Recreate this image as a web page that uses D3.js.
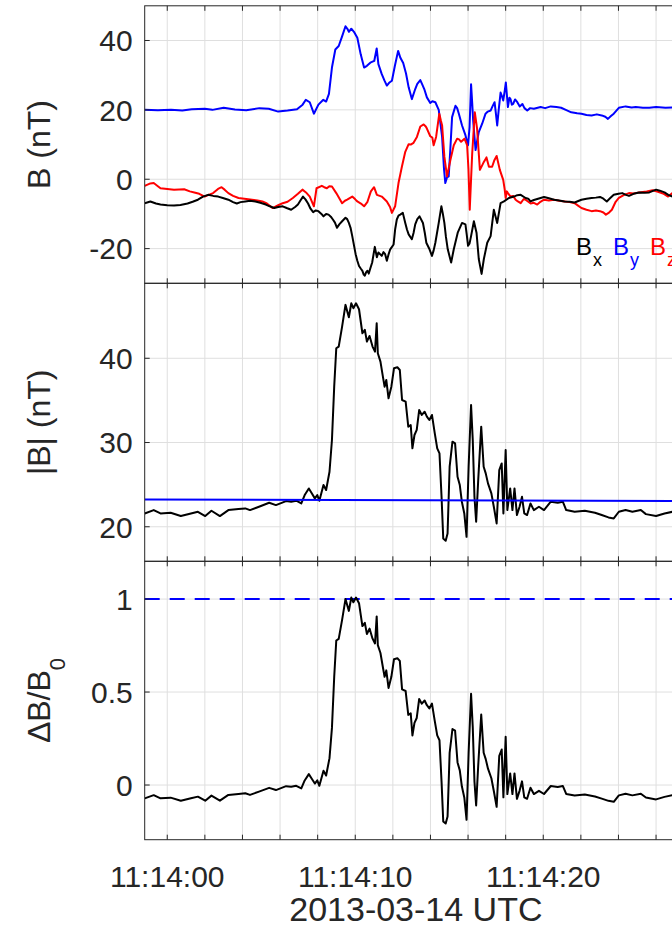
<!DOCTYPE html>
<html>
<head>
<meta charset="utf-8">
<script src="https://cdn.jsdelivr.net/npm/d3@7"></script>
<style>
html,body{margin:0;padding:0;background:#fff;}
svg{display:block;}
text{font-family:"Liberation Sans",Arial,Helvetica,sans-serif;fill:#262626;}
</style>
</head>
<body>
<svg id="chart" width="672" height="930"></svg>
<script>
// ---------- DATA (seconds after 2013-03-14 11:14:00 UTC) ----------
const tBx = [-1.2,-0.9,-0.6,-0.36,0,0.36,0.7,1.08,1.35,1.63,1.9,2.17,2.45,2.71,3,3.25,3.5,3.7,3.9,4.15,4.4,4.69,4.95,5.24,5.45,5.69,5.9,6.14,6.35,6.59,6.8,6.95,7.1,7.22,7.35,7.49,7.62,7.76,7.9,8.04,8.2,8.31,8.45,8.58,8.7,8.81,8.92,9.03,9.15,9.3,9.48,9.57,9.66,9.75,9.84,9.93,10.02,10.11,10.2,10.3,10.38,10.45,10.51,10.58,10.65,10.72,10.79,10.9,11.04,11.15,11.23,11.41,11.5,11.59,11.68,11.78,11.86,12.04,12.12,12.21,12.3,12.39,12.53,12.66,12.75,12.84,13.01,13.1,13.19,13.3,13.42,13.6,13.7,13.78,13.95,14.08,14.17,14.26,14.44,14.58,14.66,14.74,14.82,14.92,15.1,15.24,15.45,15.68,15.86,15.93,16,16.08,16.16,16.31,16.45,16.57,16.72,16.84,17.02,17.2,17.37,17.55,17.73,17.91,18.17,18.44,18.62,18.8,19.06,19.2,19.32,19.5,19.68,20.04,20.3,20.58,20.85,21.13,21.4,21.67,22.03,22.3,22.57,22.8,23.02,23.2,23.38,23.55,23.75,24,24.2,24.4,24.56,24.8,25.1,25.4,25.64,26,26.2,26.45,26.65,26.87,27.2,27.7];
const bx = [-6.9,-6.4,-7.0,-7.3,-7.5,-7.6,-7.4,-7.0,-6.5,-5.9,-5.0,-4.5,-4.8,-5.0,-5.5,-5.9,-6.6,-7.0,-6.6,-6.4,-6.2,-6.4,-6.8,-7.3,-7.8,-8.3,-8.0,-7.8,-8.3,-8.8,-8.0,-7.3,-6.0,-5.0,-5.8,-7.0,-8.5,-9.5,-9.0,-9.2,-10.0,-10.7,-10.0,-10.2,-10.8,-11.6,-12.5,-14.0,-13.0,-12.1,-11.1,-11.5,-12.6,-14.0,-16.4,-19.0,-21.6,-23.5,-25.0,-25.8,-26.4,-27.5,-27.8,-26.8,-26.4,-27.2,-25.9,-24.0,-19.5,-22.5,-21.1,-22.1,-21.0,-21.6,-23.5,-21.5,-20.2,-18.8,-14.5,-11.6,-10.5,-10.2,-9.7,-12.6,-14.5,-15.9,-17.3,-15.5,-13.0,-11.5,-10.7,-12.6,-15.5,-18.3,-20.2,-22.1,-20.5,-18.3,-12.6,-7.8,-10.0,-12.6,-16.5,-20.2,-24.0,-20.2,-15.4,-12.6,-13.0,-16.0,-19.2,-18.5,-16.4,-12.1,-15.4,-23.0,-27.3,-23.0,-18.3,-16.4,-8.8,-12.6,-6.9,-6.4,-5.4,-5.0,-4.6,-4.5,-5.4,-5.6,-6.4,-6.0,-5.7,-5.1,-5.5,-5.9,-6.1,-6.4,-6.5,-6.7,-5.9,-5.6,-5.4,-5.3,-5.1,-5.6,-6.4,-5.5,-4.5,-4.2,-4.0,-4.5,-4.8,-4.2,-3.8,-3.9,-3.8,-3.0,-3.3,-3.8,-4.5,-5.0,-4.8,-4.6];

const tBy = [-1.2,-0.5,0.2,0.8,1.3,2,2.4,3,3.6,4.2,4.9,5.4,5.9,6.4,6.9,7.2,7.37,7.58,7.8,8.04,8.3,8.45,8.6,8.76,8.94,9.12,9.3,9.48,9.6,9.66,9.79,9.93,10.11,10.29,10.47,10.62,10.8,11.01,11.14,11.23,11.41,11.55,11.68,11.8,11.95,12.1,12.28,12.4,12.55,12.7,12.84,13.01,13.19,13.3,13.46,13.55,13.67,13.81,13.99,14.1,14.26,14.44,14.62,14.72,14.79,14.88,14.97,15.05,15.15,15.33,15.42,15.51,15.68,15.86,16,16.08,16.16,16.22,16.27,16.4,16.48,16.57,16.75,16.93,17.05,17.2,17.3,17.41,17.48,17.55,17.63,17.73,17.8,17.87,17.95,18.01,18.07,18.12,18.2,18.26,18.33,18.4,18.5,18.62,18.75,18.89,19,19.15,19.3,19.5,19.86,20.1,20.4,20.7,20.95,21.2,21.49,21.8,22.03,22.3,22.57,22.85,23.11,23.3,23.44,23.6,23.75,24.02,24.38,24.7,24.92,25.3,25.64,26,26.5,27.2,27.7];
const by = [20.0,19.9,20.0,19.8,20.2,20.3,20.0,20.6,20.1,19.9,20.5,20.3,19.5,19.8,20.2,21.5,22.9,22.2,18.9,21.5,22.9,22.4,24.6,32.2,37.4,38.4,41.2,44.1,43.2,42.5,43.4,42.5,40.8,36.0,32.2,32.7,33.6,34.1,37.7,33.2,30.3,28.5,27.0,27.8,28.4,32.5,37.0,35.0,33.5,30.5,26.5,23.1,26.0,27.5,28.6,27.5,26.0,23.6,22.0,22.5,22.2,20.0,12.2,3.0,-1.1,0.5,0.8,8.0,17.9,21.2,20.5,18.9,15.5,12.7,9.8,15.0,27.4,22.0,17.0,8.4,11.0,13.6,16.0,18.9,19.5,19.8,21.0,22.2,19.0,15.5,20.0,25.0,24.0,22.7,25.5,27.9,24.0,20.8,23.5,23.1,21.5,21.7,23.0,22.2,21.0,21.7,20.5,19.8,20.5,20.3,20.8,20.5,21.0,20.8,20.6,20.0,19.3,19.0,18.9,18.5,18.4,18.7,18.4,18.0,17.4,18.2,18.9,20.6,21.0,20.7,20.8,20.6,20.6,20.8,20.6,20.7,20.6];

const tBz = [-1.2,-0.9,-0.72,-0.5,-0.36,0,0.36,0.9,1.2,1.44,1.7,1.99,2.2,2.44,2.7,2.89,3.05,3.25,3.5,3.79,4.1,4.51,4.8,5.06,5.3,5.6,5.9,6.14,6.4,6.68,6.95,7.19,7.38,7.58,7.8,7.94,8.22,8.35,8.49,8.62,8.76,8.99,9.15,9.3,9.45,9.57,9.84,10,10.11,10.3,10.47,10.65,10.83,11,11.15,11.41,11.68,11.85,11.95,12.12,12.3,12.48,12.66,12.84,12.95,13.1,13.28,13.46,13.64,13.75,13.81,13.99,14.1,14.17,14.3,14.47,14.55,14.62,14.74,14.88,15.06,15.24,15.42,15.52,15.63,15.81,15.95,16.02,16.09,16.16,16.22,16.36,16.48,16.63,16.75,16.84,16.98,17.11,17.28,17.4,17.52,17.69,17.87,17.95,18,18.06,18.12,18.26,18.4,18.53,18.65,18.8,18.96,19.06,19.33,19.5,19.68,19.85,20.04,20.3,20.58,20.85,21.13,21.4,21.67,21.85,22.03,22.3,22.57,22.8,23.02,23.2,23.33,23.5,23.65,23.85,24.02,24.3,24.56,24.8,25.1,25.5,25.82,26.1,26.37,26.64,26.87,27.2,27.7];
const bz = [-1.9,-1.2,-1.1,-2.0,-2.6,-2.8,-3.0,-2.9,-3.5,-3.8,-4.2,-5.0,-4.5,-4.0,-2.8,-2.3,-3.0,-4.0,-4.8,-5.4,-5.6,-5.9,-6.1,-6.4,-7.0,-8.3,-7.5,-6.9,-6.5,-5.4,-4.2,-3.0,-3.8,-5.0,-7.8,-2.6,-1.9,-2.3,-2.6,-2.0,-2.1,-4.0,-5.5,-6.9,-6.2,-5.9,-5.0,-5.8,-6.4,-7.0,-7.8,-6.5,-3.5,-2.3,-4.5,-5.0,-6.4,-8.0,-9.7,-7.8,-1.1,3.6,7.9,10.1,10.0,10.5,12.2,15.2,15.8,15.2,14.6,12.4,12.0,9.8,12.2,18.9,17.0,15.5,6.5,0.8,5.5,9.8,11.7,11.5,10.8,11.7,9.8,3.0,-8.8,0.0,7.4,19.3,14.6,2.7,4.0,5.0,6.3,3.6,3.6,5.5,6.7,2.7,-0.2,-3.0,-5.4,-3.5,-4.0,-5.0,-4.8,-5.9,-6.4,-6.9,-5.7,-5.9,-7.0,-6.8,-7.3,-6.5,-5.9,-6.1,-5.9,-6.2,-6.4,-6.6,-6.9,-7.6,-8.3,-8.8,-9.2,-9.0,-9.2,-9.6,-10.2,-9.6,-8.8,-6.5,-5.4,-4.5,-4.0,-4.1,-3.8,-3.5,-3.2,-3.6,-4.1,-5.0,-4.0,-3.8,-3.9];

const tBmag = [-1.2,-0.72,-0.36,0.18,0.72,1.26,1.63,2.02,2.35,2.8,3.25,3.79,4.15,4.4,4.88,5.42,5.78,6.32,6.59,6.86,7.13,7.31,7.53,7.67,7.85,7.98,8.09,8.31,8.45,8.63,8.76,8.88,8.99,9.12,9.3,9.48,9.66,9.79,9.9,10.04,10.2,10.38,10.51,10.62,10.76,10.92,11.05,11.14,11.2,11.34,11.47,11.56,11.65,11.77,11.92,12.06,12.24,12.37,12.49,12.68,12.82,12.95,13.04,13.15,13.27,13.4,13.54,13.69,13.81,13.94,14.08,14.23,14.36,14.48,14.59,14.68,14.81,14.91,15.02,15.17,15.31,15.44,15.56,15.67,15.8,15.92,16.03,16.16,16.25,16.34,16.43,16.54,16.7,16.83,16.94,17.06,17.24,17.37,17.52,17.66,17.79,17.88,18,18.09,18.24,18.36,18.47,18.6,18.74,18.87,18.99,19.14,19.32,19.5,19.77,20.04,20.4,20.77,21.04,21.22,21.67,22.21,22.75,23.11,23.47,23.75,24.02,24.38,24.74,25.19,25.46,26,26.45,26.87,27.2,27.7];
const bmag = [21.58,21.98,21.58,21.66,21.27,21.58,21.78,21.27,21.9,21.27,21.98,22.1,22.18,21.98,22.38,22.85,22.57,23.05,22.97,23.09,22.77,23.76,24.55,24.04,23.37,23.76,23.09,24.95,24.36,26.53,30.3,36.63,41.19,41.39,43.76,46.34,44.87,46.53,45.94,46.53,45.82,42.97,43.37,41.98,42.65,41.39,40.79,44.16,40.59,39.6,37.82,36.63,37.43,35.25,36.63,38.81,38.93,38.61,35.05,34.85,31.88,32.08,29.31,30.89,31.49,33.86,33.27,33.66,33.07,32.67,33.27,31.09,29.31,28.71,23.56,18.61,18.34,19.21,27.13,30.1,29.9,25.94,24.95,22.97,21.58,18.8,27.13,34.46,30.3,23.56,20.59,25.54,31.88,27.13,26.34,25.15,23.96,22.38,20.4,26.73,27.52,21.58,29.11,21.98,24.55,21.98,24.55,21.39,22.38,23.56,21.58,21.39,22.77,21.98,22.38,21.98,22.97,22.85,22.97,21.98,21.78,21.9,21.66,21.39,21.11,20.99,21.78,21.98,21.78,21.98,21.5,21.27,21.58,21.78,21.7,21.6];

// background field B0 (blue reference line), endpoints
const tB0 = [-1.2, 27.7];
const b0 = [23.25, 23.04];

const xTickLabelSeconds = [0, 10, 20];
const yTicks1 = [-20, 0, 20, 40];
const yTicks2 = [20, 30, 40];
const yTicks3 = [0, 0.5, 1];
const dashedLevel = 1;

// ---------- SCALES ----------
const T0 = Date.UTC(2013, 2, 14, 11, 14, 0);
const toDate = s => new Date(T0 + s * 1000);
const tStart = -1.2, tEnd = 27.65;
const pxPerSec = 18.8;
const left = 144.7;
const x = d3.scaleUtc().domain([toDate(tStart), toDate(tEnd)])
  .range([left, left + (tEnd - tStart) * pxPerSec]);
const xr = x.range();

const panels = [
  {y: d3.scaleLinear().domain([-30, 50]).range([283.3, 5.8]), ticks: yTicks1, fmt: d => String(d)},
  {y: d3.scaleLinear().domain([15.9, 48.9]).range([561.3, 283.3]), ticks: yTicks2, fmt: d => String(d)},
  {y: d3.scaleLinear().domain([-0.294, 1.203]).range([839.7, 561.3]), ticks: yTicks3, fmt: d => String(d)}
];

const svg = d3.select("#chart");
const secTicks = x.ticks(d3.utcSecond.every(2));
const gridColor = "#dfdfdf";
const axisColor = "#262626";

panels.forEach((p, i) => {
  const g = svg.append("g");
  const [y0, y1] = p.y.range();
  const clipId = "clip" + i;
  svg.append("clipPath").attr("id", clipId).append("rect")
    .attr("x", xr[0]).attr("y", y1).attr("width", xr[1] - xr[0]).attr("height", y0 - y1);
  g.selectAll(".vg").data(secTicks).enter().append("line")
    .attr("x1", d => x(d)).attr("x2", d => x(d)).attr("y1", y1).attr("y2", y0)
    .attr("stroke", gridColor).attr("stroke-width", 1);
  g.selectAll(".hg").data(p.ticks).enter().append("line")
    .attr("x1", xr[0]).attr("x2", xr[1]).attr("y1", d => p.y(d)).attr("y2", d => p.y(d))
    .attr("stroke", gridColor).attr("stroke-width", 1);
  p.g = g; p.clipId = clipId;
});

const line = (ys, ts, vs) => d3.line().x((d, k) => x(toDate(ts[k]))).y(d => ys(d))(vs);

// Panel 1: components
const p1 = panels[0];
[
  {t: tBy, v: by, c: "#0000ff"},
  {t: tBz, v: bz, c: "#ff0000"},
  {t: tBx, v: bx, c: "#000000"}
].forEach(s => {
  p1.g.append("path").attr("d", line(p1.y, s.t, s.v)).attr("fill", "none")
    .attr("stroke", s.c).attr("stroke-width", 2).attr("stroke-linejoin", "round")
    .attr("clip-path", `url(#${p1.clipId})`);
});

// Panel 2: |B| and B0
const p2 = panels[1];
p2.g.append("path").attr("d", line(p2.y, tBmag, bmag)).attr("fill", "none")
  .attr("stroke", "#000").attr("stroke-width", 2).attr("stroke-linejoin", "round")
  .attr("clip-path", `url(#${p2.clipId})`);
p2.g.append("path").attr("d", line(p2.y, tB0, b0)).attr("fill", "none")
  .attr("stroke", "#0000ff").attr("stroke-width", 2)
  .attr("clip-path", `url(#${p2.clipId})`);

// Panel 3: dB/B0 derived from |B| and B0
const b0At = d3.scaleLinear().domain(tB0).range(b0);
const dB = bmag.map((v, k) => v / b0At(tBmag[k]) - 1);
const p3 = panels[2];
p3.g.append("line").attr("x1", xr[0]).attr("x2", xr[1])
  .attr("y1", p3.y(dashedLevel)).attr("y2", p3.y(dashedLevel))
  .attr("stroke", "#0000ff").attr("stroke-width", 2).attr("stroke-dasharray", "15,10");
p3.g.append("path").attr("d", line(p3.y, tBmag, dB)).attr("fill", "none")
  .attr("stroke", "#000").attr("stroke-width", 2).attr("stroke-linejoin", "round")
  .attr("clip-path", `url(#${p3.clipId})`);

// Axes frames, ticks, labels
panels.forEach(p => {
  const [y0, y1] = p.y.range();
  const g = svg.append("g");
  g.append("rect").attr("x", xr[0]).attr("y", y1).attr("width", xr[1] - xr[0]).attr("height", y0 - y1)
    .attr("fill", "none").attr("stroke", axisColor).attr("stroke-width", 1);
  secTicks.forEach(d => {
    g.append("line").attr("x1", x(d)).attr("x2", x(d)).attr("y1", y0).attr("y2", y0 - 5).attr("stroke", axisColor);
    g.append("line").attr("x1", x(d)).attr("x2", x(d)).attr("y1", y1).attr("y2", y1 + 5).attr("stroke", axisColor);
  });
  p.ticks.forEach(d => {
    g.append("line").attr("x1", xr[0]).attr("x2", xr[0] + 5).attr("y1", p.y(d)).attr("y2", p.y(d)).attr("stroke", axisColor);
    g.append("text").attr("x", xr[0] - 12).attr("y", p.y(d)).attr("dy", "0.36em")
      .attr("text-anchor", "end").attr("font-size", 30).text(p.fmt(d));
  });
});

// x tick labels
const fmtT = d3.utcFormat("%H:%M:%S");
svg.selectAll(".xl").data(xTickLabelSeconds).enter().append("text")
  .attr("x", d => x(toDate(d))).attr("y", 887).attr("text-anchor", "middle")
  .attr("font-size", 30).text(d => fmtT(toDate(d)));
svg.append("text").attr("x", (xr[0] + xr[1]) / 2).attr("y", 921).attr("text-anchor", "middle")
  .attr("font-size", 34).text("2013-03-14 UTC");

// y labels
function yLabel(cy, parts) {
  const t = svg.append("text").attr("transform", `translate(50,${cy}) rotate(-90)`)
    .attr("text-anchor", "middle").attr("font-size", 32);
  parts.forEach(pt => {
    const s = t.append("tspan").text(pt.s);
    if (pt.sub) s.attr("font-size", 22).attr("dy", 15);
  });
}
yLabel(144.5, [{s: "B (nT)"}]);
yLabel(422.3, [{s: "|B| (nT)"}]);
yLabel(700.5, [{s: "ΔB/B"}, {s: "0", sub: true}]);

// legend
const leg = svg.append("text").attr("x", 576).attr("y", 255).attr("font-size", 24);
[{s: "B", c: "#000", sub: "x"}, {s: "B", c: "#0000ff", sub: "y"}, {s: "B", c: "#ff0000", sub: "z"}].forEach((e, k) => {
  leg.append("tspan").attr("dx", k === 0 ? 0 : 11).attr("dy", k === 0 ? 0 : -11).style("fill", e.c).text(e.s);
  leg.append("tspan").attr("font-size", 18).attr("dx", 1).attr("dy", 11).style("fill", e.c).text(e.sub);
});
</script>
</body>
</html>
